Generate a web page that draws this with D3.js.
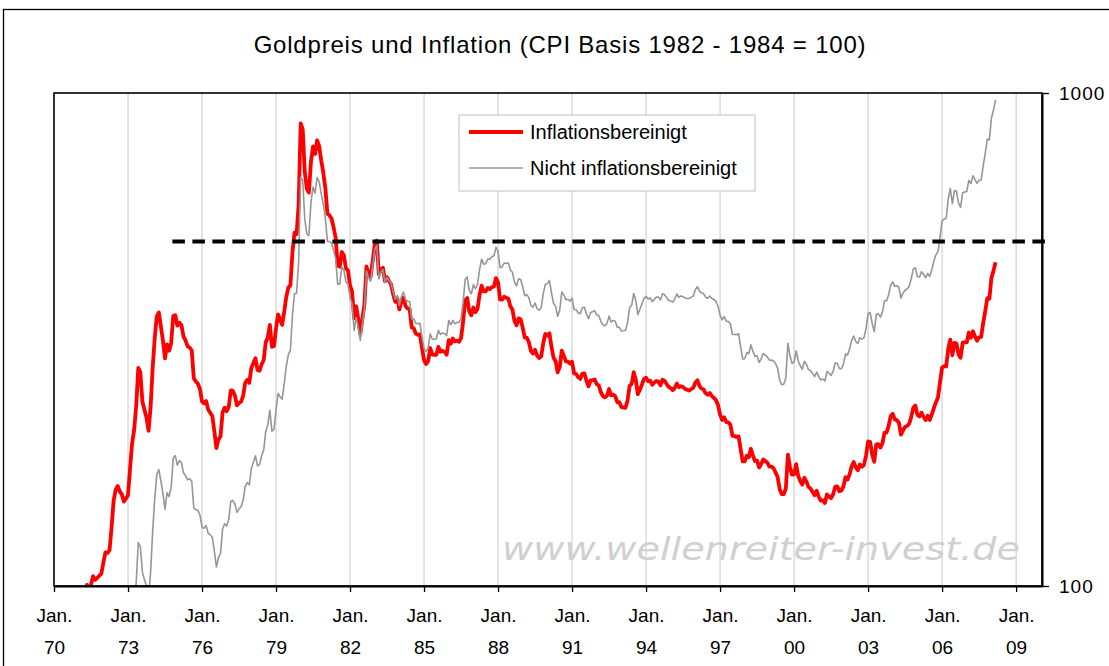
<!DOCTYPE html>
<html>
<head>
<meta charset="utf-8">
<script src="https://cdn.jsdelivr.net/npm/d3@7"></script>
<style>
    body { margin: 0; background: #fff; }
    svg { display: block; }
</style>
</head>
<body>
<div id="chart"></div>
<script>
// monthly values, first value = Jan 1971, last = Mar 2008
var startYear = 1971;

// gold price in USD (not adjusted)
var nominal = [
    37.9, 38.7, 38.9, 39.0, 40.5, 40.1, 40.9, 42.7, 42.0, 42.5, 42.9, 43.5,
    45.8, 48.3, 48.3, 49.0, 54.6, 62.1, 65.7, 67.0, 65.5, 64.9, 62.9, 63.9,
    65.1, 74.2, 84.4, 90.5, 102.0, 122.5, 120.2, 106.8, 102.9, 100.1, 94.8, 106.7,
    129.2, 150.2, 168.4, 172.2, 163.3, 154.1, 143.0, 154.6, 151.8, 158.8, 181.7, 183.9,
    175.8, 179.6, 178.0, 169.7, 167.3, 164.2, 165.1, 163.1, 144.1, 142.7, 142.2, 139.3,
    131.6, 131.0, 132.6, 127.9, 126.9, 125.7, 117.7, 109.3, 114.2, 116.4, 130.4, 133.8,
    132.3, 136.4, 148.4, 149.2, 146.7, 141.1, 143.4, 144.8, 149.2, 159.2, 162.1, 160.4,
    173.2, 178.2, 183.7, 175.2, 176.3, 183.7, 188.7, 206.0, 212.4, 227.3, 206.0, 207.8,
    227.3, 245.7, 242.1, 239.2, 257.7, 279.1, 294.7, 300.8, 355.1, 391.7, 392.5, 455.1,
    675.3, 665.3, 553.6, 517.4, 513.8, 600.7, 644.3, 626.5, 673.6, 661.2, 623.5, 594.9,
    557.5, 500.1, 499.8, 495.8, 479.7, 460.8, 409.3, 410.1, 443.4, 437.8, 413.4, 410.1,
    384.1, 374.2, 330.0, 350.5, 333.8, 314.9, 339.0, 364.2, 435.6, 422.1, 415.0, 444.3,
    481.3, 491.1, 419.7, 432.8, 438.4, 412.9, 422.6, 416.2, 411.6, 394.1, 381.6, 388.3,
    370.8, 386.7, 394.4, 381.3, 377.8, 377.6, 348.1, 348.2, 341.2, 340.2, 341.2, 320.2,
    303.0, 298.9, 304.0, 324.9, 316.6, 316.8, 317.4, 330.1, 323.5, 326.0, 325.3, 322.0,
    345.5, 338.9, 345.7, 340.4, 342.5, 342.7, 348.5, 376.3, 418.3, 423.5, 398.0, 391.3,
    408.3, 401.1, 408.9, 438.4, 460.2, 449.6, 450.5, 460.4, 460.1, 465.5, 467.4, 486.2,
    477.8, 442.1, 443.7, 452.1, 451.3, 451.9, 437.4, 432.9, 413.3, 406.3, 419.9, 418.7,
    404.5, 387.9, 390.0, 384.3, 371.0, 367.6, 375.0, 365.4, 362.6, 367.1, 391.8, 409.2,
    410.2, 416.8, 393.1, 374.3, 369.1, 352.3, 362.5, 394.9, 389.2, 381.0, 381.6, 378.2,
    383.6, 363.8, 363.3, 358.4, 356.8, 366.7, 367.7, 356.2, 348.6, 358.7, 360.1, 361.7,
    354.5, 353.9, 344.3, 338.6, 337.2, 340.8, 352.7, 343.2, 345.4, 344.4, 335.0, 334.8,
    329.0, 329.3, 330.1, 342.2, 367.2, 371.0, 392.0, 379.6, 355.3, 364.2, 373.8, 383.3,
    386.9, 381.9, 384.1, 377.3, 381.4, 385.6, 385.5, 380.4, 391.6, 389.8, 384.4, 379.3,
    378.6, 376.5, 382.1, 391.0, 385.2, 387.6, 386.2, 383.8, 383.1, 383.0, 385.5, 387.4,
    399.5, 404.8, 396.2, 392.9, 391.9, 385.3, 383.5, 387.5, 383.1, 381.1, 377.9, 369.3,
    354.1, 346.6, 351.8, 344.5, 343.8, 340.8, 324.1, 323.8, 323.4, 324.9, 306.0, 288.7,
    289.1, 297.5, 295.9, 308.4, 299.1, 292.3, 292.9, 284.1, 289.0, 296.1, 294.1, 291.6,
    287.1, 287.3, 285.9, 282.6, 276.4, 261.3, 256.1, 256.7, 264.7, 310.7, 293.2, 283.1,
    284.3, 300.0, 286.4, 279.7, 275.2, 285.7, 281.6, 274.5, 273.7, 270.0, 266.0, 271.5,
    265.5, 261.9, 263.0, 260.5, 272.4, 270.2, 267.5, 272.4, 283.4, 283.1, 276.2, 275.9,
    281.7, 295.5, 294.0, 302.7, 314.5, 321.2, 313.3, 310.3, 319.2, 316.6, 319.1, 332.6,
    356.9, 359.0, 340.6, 328.2, 355.7, 356.4, 351.0, 359.8, 378.9, 378.9, 389.9, 407.6,
    414.0, 405.3, 406.7, 403.0, 383.5, 392.4, 398.1, 400.5, 405.3, 420.5, 439.4, 442.1,
    424.0, 423.4, 434.2, 428.9, 421.9, 430.7, 424.5, 437.9, 456.1, 469.9, 476.7, 510.1,
    549.9, 555.0, 557.1, 610.6, 640.0, 596.2, 633.8, 632.6, 598.2, 585.8, 627.8, 629.8,
    631.2, 664.8, 654.9, 679.4, 666.9, 655.5, 665.3, 665.4, 712.7, 754.6, 806.3, 803.2,
    889.6, 922.3, 968.4
];

// gold price adjusted for inflation (CPI 1982-84 = 100)
var real = [
    95.2, 97.0, 97.3, 97.3, 100.5, 98.8, 100.5, 104.7, 102.9, 103.9, 104.9, 105.8,
    111.4, 117.0, 116.7, 118.1, 131.3, 148.9, 156.8, 159.5, 155.6, 153.4, 148.3, 150.4,
    152.8, 173.0, 194.9, 207.6, 232.3, 277.1, 271.3, 236.8, 227.7, 219.5, 206.5, 231.0,
    277.3, 318.2, 352.3, 358.8, 336.0, 314.5, 289.5, 309.2, 300.0, 310.8, 352.8, 354.3,
    337.4, 342.1, 337.8, 320.8, 314.5, 306.3, 304.6, 300.4, 263.9, 259.9, 257.1, 251.0,
    236.7, 234.8, 237.2, 228.0, 224.6, 221.3, 206.1, 190.4, 198.3, 201.0, 224.8, 229.9,
    226.2, 230.8, 249.4, 248.7, 243.3, 232.5, 235.1, 236.6, 243.0, 258.4, 261.9, 258.3,
    277.1, 283.3, 289.7, 274.2, 273.3, 281.7, 287.2, 312.1, 319.4, 338.7, 305.6, 306.9,
    332.8, 355.6, 346.8, 338.8, 360.4, 386.0, 403.1, 407.6, 476.0, 520.9, 517.1, 593.4,
    868.0, 843.2, 691.1, 638.8, 628.1, 726.4, 779.1, 752.1, 801.9, 779.7, 729.2, 689.3,
    640.8, 568.9, 564.7, 556.5, 534.2, 508.6, 446.8, 444.3, 475.8, 468.7, 441.2, 436.3,
    407.3, 395.6, 349.2, 369.3, 348.4, 324.6, 347.7, 372.8, 444.9, 429.8, 423.5, 455.2,
    492.1, 501.6, 428.7, 438.9, 441.9, 415.0, 423.0, 415.4, 408.7, 390.2, 377.1, 383.3,
    363.9, 377.6, 384.4, 369.8, 365.4, 364.1, 334.4, 333.2, 325.0, 323.1, 324.0, 304.1,
    287.2, 282.0, 285.7, 303.9, 295.1, 294.4, 294.4, 305.6, 298.7, 299.9, 298.4, 294.6,
    315.2, 310.1, 317.7, 313.4, 314.5, 313.0, 318.3, 343.0, 379.6, 384.0, 360.5, 354.1,
    367.2, 359.4, 364.8, 389.0, 406.9, 396.1, 395.9, 402.4, 400.1, 403.7, 405.0, 421.3,
    413.0, 381.1, 380.9, 386.1, 384.1, 383.0, 369.1, 363.8, 345.0, 338.0, 349.0, 347.5,
    334.0, 319.0, 318.9, 312.2, 299.7, 296.2, 301.4, 293.3, 290.1, 292.3, 311.2, 324.5,
    322.0, 325.6, 305.4, 290.4, 285.7, 271.2, 278.0, 300.1, 293.3, 285.4, 285.2, 282.7,
    285.0, 269.9, 269.1, 265.1, 263.1, 269.6, 270.0, 260.8, 254.1, 261.1, 261.3, 262.3,
    256.7, 255.3, 247.2, 242.7, 241.4, 243.1, 251.0, 243.6, 244.4, 242.9, 235.9, 235.9,
    230.7, 230.1, 229.9, 237.6, 254.6, 256.9, 271.5, 262.2, 244.9, 250.0, 256.4, 262.9,
    264.6, 260.3, 260.9, 256.0, 258.6, 260.5, 259.8, 255.3, 262.1, 260.7, 256.8, 253.4,
    251.9, 249.5, 252.4, 257.4, 253.1, 254.2, 253.2, 251.0, 250.1, 249.2, 251.0, 252.4,
    258.7, 261.3, 254.5, 251.4, 250.3, 245.9, 244.3, 246.3, 242.8, 240.7, 238.3, 232.8,
    222.6, 217.2, 219.9, 215.0, 214.7, 212.6, 201.9, 201.4, 200.6, 201.1, 189.5, 179.0,
    178.9, 183.8, 182.4, 189.8, 183.7, 179.3, 179.5, 173.9, 176.7, 180.5, 179.3, 177.9,
    174.7, 174.7, 173.3, 170.0, 166.3, 157.2, 153.6, 153.6, 157.7, 184.7, 174.2, 168.2,
    168.4, 176.7, 167.3, 163.3, 160.5, 165.7, 163.0, 158.9, 157.6, 155.2, 152.8, 156.0,
    151.6, 149.0, 149.3, 147.3, 153.3, 151.8, 150.7, 153.5, 158.9, 159.3, 155.7, 156.1,
    159.1, 166.2, 164.4, 168.4, 174.9, 178.5, 174.0, 171.7, 176.4, 174.6, 176.0, 183.9,
    196.4, 196.1, 184.9, 178.6, 193.8, 194.0, 190.9, 194.9, 204.6, 204.8, 211.3, 221.2,
    223.5, 217.7, 217.0, 214.4, 202.8, 206.9, 210.2, 211.3, 213.4, 220.3, 230.1, 232.3,
    222.3, 220.8, 224.6, 220.4, 217.0, 221.4, 217.2, 223.0, 229.4, 235.9, 241.2, 259.2,
    277.3, 279.3, 278.8, 303.0, 316.0, 293.8, 311.4, 310.3, 294.8, 290.3, 311.6, 312.1,
    311.9, 326.7, 318.8, 328.7, 320.8, 314.5, 319.4, 320.1, 341.8, 361.2, 383.6, 382.5,
    421.4, 435.7, 453.6
];

var tickYears = [1970, 1973, 1976, 1979, 1982, 1985, 1988, 1991, 1994, 1997, 2000, 2003, 2006, 2009];
var yTicks = [100, 1000];
// horizontal resistance line
var resistance = [{ year: 1974.8, value: 500 }, { year: 2010.25, value: 500 }];
var seriesNames = ["Inflationsbereinigt", "Nicht inflationsbereinigt"];

var width = 1109,
    height = 666;
var margin = { top: 93, left: 54 },
    plotW = 988,
    plotH = 493;

var x = d3.scaleLinear()
    .domain([1970, 2010.05])
    .range([0, plotW]);
var y = d3.scaleLog()
    .domain([100, 1000])
    .range([plotH, 0]);

var svg = d3.select("#chart").append("svg")
    .attr("width", width)
    .attr("height", height)
    .style("font-family", "'Liberation Sans', Arial, sans-serif");

// outer chart frame
svg.append("rect")
    .attr("x", 3.5).attr("y", 9.5)
    .attr("width", 1300).attr("height", 800)
    .attr("fill", "#fff")
    .attr("stroke", "#000")
    .attr("stroke-width", 1.3);

svg.append("text")
    .attr("x", 560)
    .attr("y", 53)
    .attr("text-anchor", "middle")
    .style("font-size", "24px")
    .style("letter-spacing", "0.8px")
    .text("Goldpreis und Inflation (CPI Basis 1982 - 1984 = 100)");

var g = svg.append("g")
    .attr("transform", "translate(" + margin.left + "," + margin.top + ")");

g.append("clipPath").attr("id", "plot-clip")
    .append("rect").attr("width", plotW).attr("height", plotH);

// vertical grid lines
g.selectAll(".grid")
    .data(tickYears.slice(1))
    .enter().append("line")
    .attr("class", "grid")
    .attr("x1", function (d) { return x(d); })
    .attr("x2", function (d) { return x(d); })
    .attr("y1", 0)
    .attr("y2", plotH)
    .attr("stroke", "#c8c8c8")
    .attr("stroke-width", 1);

// watermark
g.append("text")
    .attr("x", 448)
    .attr("y", 467)
    .attr("textLength", 518)
    .attr("lengthAdjust", "spacingAndGlyphs")
    .style("font-family", "'DejaVu Sans', Verdana, sans-serif")
    .style("font-style", "italic")
    .style("font-size", "32px")
    .attr("fill", "#d0d0d0")
    .text("www.wellenreiter-invest.de");

function monthX(d, i) { return x(startYear + i / 12); }

var line = d3.line()
    .x(monthX)
    .y(function (d) { return y(d); });

var plot = g.append("g").attr("clip-path", "url(#plot-clip)");

plot.append("path")
    .datum(real)
    .attr("d", line)
    .attr("fill", "none")
    .attr("stroke", "#ff0000")
    .attr("stroke-width", 3.8)
    .attr("stroke-linejoin", "round");

plot.append("path")
    .datum(nominal)
    .attr("d", line)
    .attr("fill", "none")
    .attr("stroke", "#969696")
    .attr("stroke-width", 1.6)
    .attr("stroke-linejoin", "round");

g.append("path")
    .datum(resistance)
    .attr("d", d3.line()
        .x(function (d) { return x(d.year); })
        .y(function (d) { return y(d.value); }))
    .attr("fill", "none")
    .attr("stroke", "#000")
    .attr("stroke-width", 4)
    .attr("stroke-dasharray", "12.5,7.5");

// plot border (top + left)
g.append("rect")
    .attr("width", plotW)
    .attr("height", plotH)
    .attr("fill", "none")
    .attr("stroke", "#000")
    .attr("stroke-width", 1.6);

// bottom axis with two-line labels
var xAxis = g.append("g")
    .attr("transform", "translate(0," + plotH + ")")
    .call(d3.axisBottom(x)
        .tickValues(tickYears)
        .tickSizeInner(6)
        .tickSizeOuter(0)
        .tickPadding(17)
        .tickFormat(function (d) { return ""; }));
xAxis.select(".domain").attr("stroke", "#000").attr("stroke-width", 2);
xAxis.selectAll(".tick line").attr("stroke", "#000").attr("stroke-width", 1.3);
xAxis.selectAll(".tick text")
    .style("font-size", "19px")
    .style("font-family", "'Liberation Sans', Arial, sans-serif")
    .attr("fill", "#000")
    .each(function (d) {
        var t = d3.select(this);
        t.append("tspan").attr("x", 0).attr("dy", "0.71em").text("Jan.");
        t.append("tspan").attr("x", 0).attr("dy", "1.68em").text(String(d).slice(2));
    });

// right axis
var yAxis = g.append("g")
    .attr("transform", "translate(" + plotW + ",0)")
    .call(d3.axisRight(y)
        .tickValues(yTicks)
        .tickSizeInner(7)
        .tickSizeOuter(0)
        .tickPadding(10)
        .tickFormat(d3.format("d")));
yAxis.select(".domain").attr("stroke", "#000").attr("stroke-width", 2);
yAxis.selectAll(".tick line").attr("stroke", "#000").attr("stroke-width", 1.3);
yAxis.selectAll(".tick text")
    .style("font-size", "19px")
    .style("letter-spacing", "1px")
    .style("font-family", "'Liberation Sans', Arial, sans-serif")
    .attr("fill", "#000");

// legend
var legend = svg.append("g").attr("transform", "translate(459,115)");
legend.append("rect")
    .attr("width", 296)
    .attr("height", 76)
    .attr("fill", "#fff")
    .attr("stroke", "#c0c0c0");
var legendItems = legend.selectAll(".item")
    .data(seriesNames)
    .enter().append("g")
    .attr("class", "item")
    .attr("transform", function (d, i) { return "translate(0," + (17 + i * 36) + ")"; });
legendItems.append("line")
    .attr("x1", 10).attr("x2", 64)
    .attr("stroke", function (d, i) { return i == 0 ? "#ff0000" : "#969696"; })
    .attr("stroke-width", function (d, i) { return i == 0 ? 3.8 : 1.6; });
legendItems.append("text")
    .attr("x", 71)
    .attr("dy", "0.35em")
    .style("font-size", "20px")
    .text(function (d) { return d; });
</script>
</body>
</html>
